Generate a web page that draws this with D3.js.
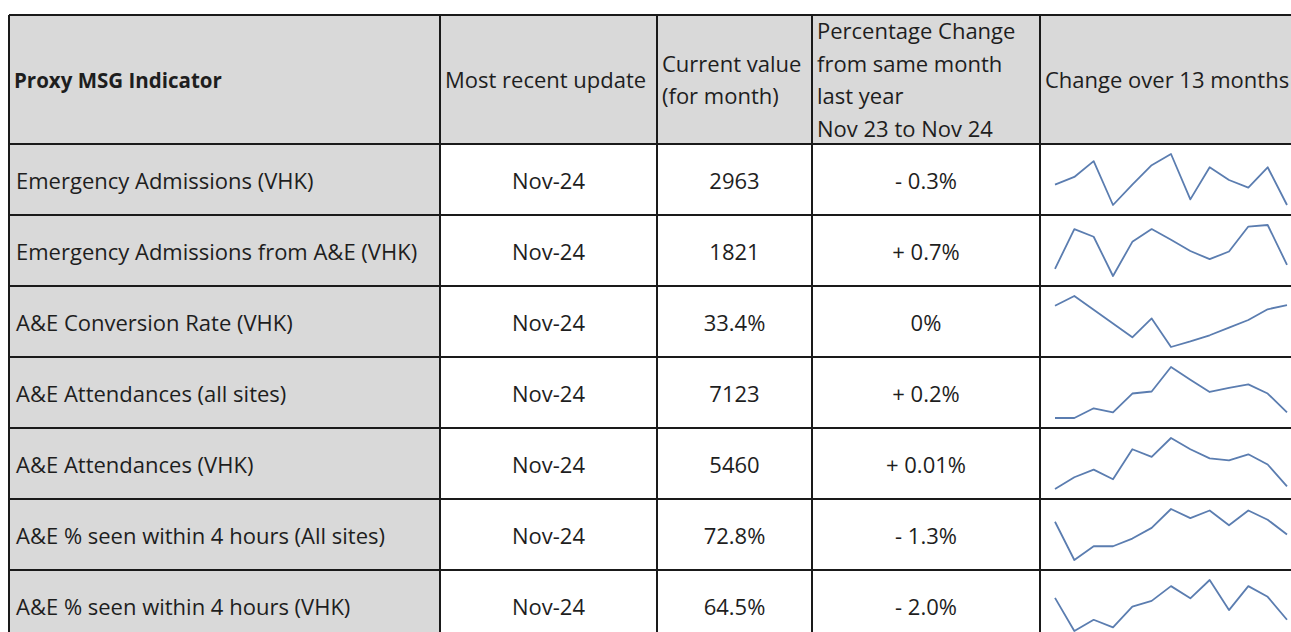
<!DOCTYPE html>
<html>
<head>
<meta charset="utf-8">
<script src="https://cdn.jsdelivr.net/npm/d3@7"></script>
<style>
  body { margin: 0; background: #fff; }
  text { font-family: "Open Sans", "Noto Sans", sans-serif; fill: #1e1e1e; }
</style>
</head>
<body>
<div id="table"></div>
<script>
// table content
var indicators = ["Emergency Admissions (VHK)", "Emergency Admissions from A&E (VHK)", "A&E Conversion Rate (VHK)",
  "A&E Attendances (all sites)", "A&E Attendances (VHK)", "A&E % seen within 4 hours (All sites)", "A&E % seen within 4 hours (VHK)"];
var updates = ["Nov-24", "Nov-24", "Nov-24", "Nov-24", "Nov-24", "Nov-24", "Nov-24"];
var currentValues = ["2963", "1821", "33.4%", "7123", "5460", "72.8%", "64.5%"];
var pctChange = ["- 0.3%", "+ 0.7%", "0%", "+ 0.2%", "+ 0.01%", "- 1.3%", "- 2.0%"];

// sparkline shapes, relative level (0 = lowest, 100 = highest month), Nov 23 .. Nov 24
var sparkEA     = [40, 55, 86, 0, 40, 78, 100, 11, 74, 49, 34, 74, 0];
var sparkEAAE   = [14, 92, 77, 0, 67, 92, 71, 49, 33, 48, 97, 100, 22];
var sparkConv   = [81, 100, 73, 46, 19, 56, 0, 11, 23, 38, 53, 74, 82];
var sparkAttAll = [0, 0, 19, 11, 48, 52, 100, 75, 51, 59, 66, 48, 11];
var sparkAttVHK = [0, 23, 38, 19, 78, 63, 100, 78, 60, 56, 68, 48, 5];
var spark4hAll  = [75, 0, 27, 27, 42, 63, 100, 82, 97, 68, 97, 79, 50];
var spark4hVHK  = [65, 0, 22, 7, 48, 59, 88, 64, 100, 41, 88, 67, 22];
var sparks = [sparkEA, sparkEAAE, sparkConv, sparkAttAll, sparkAttVHK, spark4hAll, spark4hVHK];

var headerLines = [
  ["Proxy MSG Indicator"],
  ["Most recent update"],
  ["Current value", "(for month)"],
  ["Percentage Change", "from same month", "last year", "Nov 23 to Nov 24"],
  ["Change over 13 months"]
];

var W = 1291, H = 632;
var colEdges = [9, 440, 657, 812, 1040, 1300];
var tableTop = 15, headerBottom = 144, rowH = 71;
var fontSize = 22;

var svg = d3.select("#table").append("svg")
  .attr("width", W)
  .attr("height", H);

// row positions
var rowY = d3.scaleLinear().domain([0, 1]).range([headerBottom, headerBottom + rowH]);

// header background
svg.append("rect")
  .attr("x", colEdges[0]).attr("y", tableTop)
  .attr("width", colEdges[5] - colEdges[0])
  .attr("height", headerBottom - tableTop)
  .attr("fill", "#d9d9d9");

// first column grey
svg.append("rect")
  .attr("x", colEdges[0]).attr("y", headerBottom)
  .attr("width", colEdges[1] - colEdges[0])
  .attr("height", rowY(indicators.length) - headerBottom)
  .attr("fill", "#d9d9d9");

// header text
var headMid = (tableTop + headerBottom) / 2;
headerLines.forEach(function(lines, c) {
  var lh = 32.5;
  var y0 = headMid - (lines.length - 1) * lh / 2 + 1;
  var t = svg.append("text")
    .attr("x", colEdges[c] + 5)
    .attr("font-size", c == 0 ? 20.5 : fontSize)
    .attr("font-weight", c == 0 ? "bold" : "normal");
  lines.forEach(function(l, i) {
    t.append("tspan")
      .attr("x", colEdges[c] + 5)
      .attr("y", y0 + i * lh)
      .attr("dy", "0.35em")
      .text(l);
  });
});

// body cells
var rows = svg.selectAll("g.row")
  .data(indicators)
  .enter().append("g")
  .attr("class", "row");

rows.append("text")
  .attr("x", colEdges[0] + 7)
  .attr("y", function(d, i) { return rowY(i + 0.5) + 2; })
  .attr("dy", "0.35em")
  .attr("font-size", fontSize)
  .text(function(d) { return d; });

var cols = [updates, currentValues, pctChange];
cols.forEach(function(arr, c) {
  rows.append("text")
    .attr("x", (colEdges[c + 1] + colEdges[c + 2]) / 2)
    .attr("y", function(d, i) { return rowY(i + 0.5) + 2; })
    .attr("dy", "0.35em")
    .attr("text-anchor", "middle")
    .attr("font-size", fontSize)
    .text(function(d, i) { return arr[i]; });
});

// sparklines
var sx = d3.scaleLinear().domain([0, 12]).range([1055, 1287]);
sparks.forEach(function(vals, i) {
  var sy = d3.scaleLinear().domain([0, 100]).range([rowY(i + 1) - 10, rowY(i) + 10]);
  var line = d3.line()
    .x(function(d, k) { return sx(k); })
    .y(function(d) { return sy(d); });
  svg.append("path")
    .datum(vals)
    .attr("fill", "none")
    .attr("stroke", "#5b7db0")
    .attr("stroke-width", 1.8)
    .attr("stroke-linejoin", "round")
    .attr("d", line);
});

// grid lines
var bottom = rowY(indicators.length);
svg.selectAll("line.h")
  .data(d3.range(indicators.length + 1))
  .enter().append("line")
  .attr("x1", colEdges[0]).attr("x2", colEdges[5])
  .attr("y1", function(d) { return rowY(d); })
  .attr("y2", function(d) { return rowY(d); })
  .attr("stroke", "#1a1a1a").attr("stroke-width", 2);

svg.append("line")
  .attr("x1", colEdges[0]).attr("x2", colEdges[5])
  .attr("y1", tableTop).attr("y2", tableTop)
  .attr("stroke", "#1a1a1a").attr("stroke-width", 2);

svg.selectAll("line.v")
  .data(colEdges.slice(0, 5))
  .enter().append("line")
  .attr("x1", function(d) { return d; }).attr("x2", function(d) { return d; })
  .attr("y1", tableTop).attr("y2", bottom)
  .attr("stroke", "#1a1a1a").attr("stroke-width", 2);
</script>
</body>
</html>
